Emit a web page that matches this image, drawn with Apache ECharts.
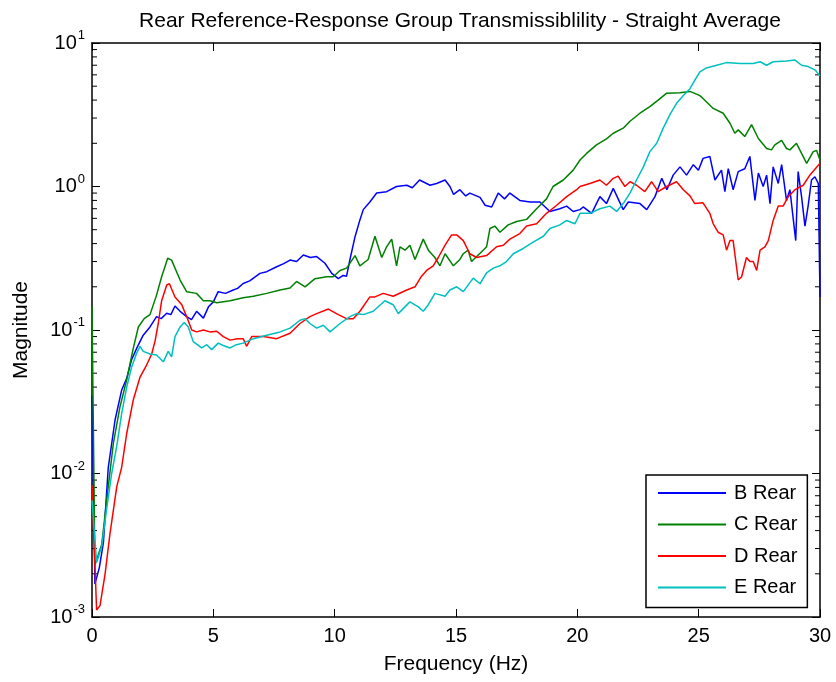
<!DOCTYPE html>
<html>
<head>
<meta charset="utf-8">
<script src="https://cdn.jsdelivr.net/npm/echarts@6/dist/echarts.min.js"></script>
<style>html,body{margin:0;padding:0;background:#fff;}#c{width:836px;height:682px;}</style>
</head>
<body>
<div id="c"></div>
<script>
// ---- data ----
const seriesNames = ['B Rear', 'C Rear', 'D Rear', 'E Rear'];
const xTicks = [0, 5, 10, 15, 20, 25, 30];
const yDecades = [0.001, 0.01, 0.1, 1, 10];
const minorMantissas = [2, 3, 4, 5, 6, 7, 8, 9];

const freqB = [0, 0.12, 0.3, 0.47, 0.67, 0.95, 1.22, 1.43, 1.63, 1.85, 2.11, 2.39, 2.66, 2.85, 3.08, 3.25, 3.42, 3.63, 3.9, 4.1, 4.31, 4.59, 4.8, 5.0, 5.2, 5.5, 5.82, 6.0, 6.23, 6.5, 6.92, 7.2, 7.61, 7.9, 8.16, 8.43, 8.71, 9.0, 9.26, 9.6, 9.88, 10.15, 10.35, 10.49, 10.63, 10.84, 11.04, 11.18, 11.45, 11.73, 12.14, 12.55, 12.97, 13.2, 13.5, 13.93, 14.2, 14.55, 14.75, 14.9, 15.16, 15.4, 15.57, 15.99, 16.2, 16.47, 16.74, 17.0, 17.22, 17.63, 18.05, 18.46, 18.87, 19.28, 19.56, 19.83, 20.11, 20.24, 20.59, 20.93, 21.2, 21.48, 21.89, 22.1, 22.58, 22.86, 23.2, 23.48, 23.69, 23.95, 24.23, 24.5, 24.78, 24.99, 25.18, 25.46, 25.67, 25.94, 26.08, 26.22, 26.42, 26.63, 26.9, 27.11, 27.32, 27.46, 27.66, 27.8, 27.94, 28.07, 28.28, 28.42, 28.62, 28.76, 29.0, 29.1, 29.24, 29.38, 29.51, 29.65, 29.79, 29.93, 30];
const magB = [0.035, 0.0017, 0.0022, 0.0033, 0.011, 0.0236, 0.038, 0.046, 0.062, 0.075, 0.092, 0.105, 0.124, 0.12, 0.131, 0.128, 0.147, 0.135, 0.124, 0.118, 0.135, 0.121, 0.145, 0.157, 0.185, 0.18, 0.19, 0.195, 0.211, 0.22, 0.248, 0.255, 0.276, 0.29, 0.307, 0.3, 0.333, 0.32, 0.325, 0.292, 0.248, 0.228, 0.24, 0.237, 0.31, 0.447, 0.585, 0.69, 0.78, 0.9, 0.92, 1.0, 1.02, 0.98, 1.11, 1.02, 1.05, 1.11, 1.0, 0.88, 0.95, 0.86, 0.9, 0.84, 0.74, 0.72, 0.9, 0.82, 0.9, 0.8, 0.78, 0.78, 0.67, 0.7, 0.73, 0.67, 0.69, 0.72, 0.65, 0.85, 0.76, 0.97, 0.69, 0.78, 0.76, 0.69, 0.85, 1.14, 0.95, 1.2, 1.37, 1.2, 1.42, 1.3, 1.57, 1.62, 1.11, 1.3, 0.92, 1.33, 0.95, 1.27, 1.33, 1.62, 0.8, 1.24, 1.0, 1.2, 0.76, 1.37, 1.05, 1.42, 0.8, 0.95, 0.42, 1.27, 0.85, 0.53, 0.73, 1.11, 1.17, 1.05, 0.17];

const freqC = [0, 0.12, 0.4, 0.67, 0.88, 1.15, 1.43, 1.7, 1.91, 2.15, 2.39, 2.66, 2.87, 3.12, 3.28, 3.63, 3.9, 4.31, 4.59, 4.86, 5.14, 5.69, 6.23, 6.65, 7.2, 7.75, 8.16, 8.43, 8.78, 9.19, 9.67, 9.94, 10.22, 10.49, 10.84, 11.04, 11.38, 11.66, 11.94, 12.14, 12.35, 12.55, 12.69, 12.9, 13.1, 13.31, 13.65, 13.86, 14.13, 14.34, 14.55, 14.89, 15.16, 15.3, 15.5, 15.64, 16.12, 16.26, 16.4, 16.6, 16.81, 17.15, 17.5, 17.91, 18.32, 18.73, 19.0, 19.42, 19.83, 20.11, 20.38, 20.79, 21.2, 21.48, 21.89, 22.17, 22.58, 22.99, 23.33, 23.68, 24.23, 24.64, 25.05, 25.18, 25.6, 26.01, 26.29, 26.49, 26.63, 26.9, 27.18, 27.46, 27.8, 28.0, 28.14, 28.42, 28.62, 28.76, 29.03, 29.24, 29.45, 29.72, 29.86, 30];
const magC = [0.145, 0.0023, 0.0032, 0.0081, 0.0162, 0.029, 0.045, 0.0745, 0.105, 0.12, 0.128, 0.175, 0.235, 0.316, 0.307, 0.223, 0.185, 0.18, 0.16, 0.16, 0.155, 0.16, 0.168, 0.172, 0.18, 0.19, 0.196, 0.218, 0.2, 0.228, 0.235, 0.235, 0.26, 0.27, 0.33, 0.28, 0.31, 0.45, 0.32, 0.38, 0.43, 0.28, 0.38, 0.36, 0.39, 0.31, 0.43, 0.36, 0.32, 0.28, 0.34, 0.28, 0.31, 0.34, 0.36, 0.3, 0.36, 0.38, 0.51, 0.53, 0.48, 0.54, 0.57, 0.59, 0.7, 0.82, 1.0, 1.11, 1.3, 1.53, 1.7, 1.95, 2.15, 2.35, 2.55, 2.85, 3.24, 3.6, 4.0, 4.47, 4.5, 4.6, 4.3, 4.1, 3.5, 3.24, 2.76, 2.35, 2.48, 2.23, 2.7, 2.16, 1.84, 1.8, 1.95, 2.1, 1.84, 1.8, 2.0, 1.7, 1.45, 1.75, 1.78, 1.53];

const freqD = [0, 0.19, 0.33, 0.54, 0.74, 1.02, 1.22, 1.43, 1.7, 1.98, 2.25, 2.46, 2.6, 2.73, 2.87, 3.08, 3.19, 3.42, 3.7, 3.9, 4.11, 4.31, 4.59, 4.86, 5.14, 5.41, 5.69, 6.0, 6.23, 6.37, 6.58, 7.06, 7.61, 8.16, 8.57, 8.98, 9.26, 9.74, 10.15, 10.49, 10.77, 11.04, 11.45, 11.66, 12.0, 12.41, 12.97, 13.31, 13.58, 13.79, 14.06, 14.27, 14.55, 14.82, 15.03, 15.3, 15.57, 15.85, 16.26, 16.67, 16.95, 17.22, 17.63, 17.91, 18.32, 18.73, 19.15, 19.56, 19.97, 20.11, 20.52, 20.93, 21.2, 21.48, 21.68, 21.96, 22.17, 22.44, 22.78, 23.06, 23.33, 23.68, 24.09, 24.37, 24.64, 24.84, 25.18, 25.46, 25.6, 25.8, 26.01, 26.15, 26.29, 26.42, 26.63, 26.77, 26.97, 27.11, 27.25, 27.39, 27.53, 27.73, 27.87, 28.07, 28.28, 28.48, 28.69, 28.97, 29.31, 29.58, 30];
const magD = [0.0083, 0.00112, 0.0012, 0.002, 0.0038, 0.0081, 0.011, 0.019, 0.0325, 0.047, 0.057, 0.068, 0.084, 0.111, 0.16, 0.206, 0.21, 0.17, 0.15, 0.124, 0.1, 0.097, 0.1, 0.097, 0.098, 0.09, 0.085, 0.087, 0.087, 0.077, 0.09, 0.09, 0.087, 0.095, 0.111, 0.124, 0.13, 0.14, 0.128, 0.12, 0.12, 0.135, 0.17, 0.17, 0.18, 0.172, 0.19, 0.2, 0.237, 0.26, 0.28, 0.32, 0.39, 0.46, 0.46, 0.42, 0.34, 0.32, 0.33, 0.38, 0.39, 0.43, 0.47, 0.53, 0.55, 0.65, 0.74, 0.85, 0.95, 1.0, 1.05, 1.11, 1.02, 1.14, 1.18, 1.0, 1.08, 1.02, 0.92, 1.08, 0.92, 1.0, 1.08, 0.95, 0.86, 0.76, 0.77, 0.65, 0.55, 0.48, 0.46, 0.36, 0.42, 0.42, 0.223, 0.235, 0.32, 0.3, 0.3, 0.26, 0.36, 0.38, 0.42, 0.58, 0.73, 0.73, 0.85, 0.95, 1.02, 1.2, 1.45];

const freqE = [0, 0.19, 0.4, 0.6, 0.81, 1.02, 1.22, 1.43, 1.63, 1.84, 1.98, 2.11, 2.39, 2.66, 2.94, 3.14, 3.28, 3.42, 3.63, 3.8, 3.97, 4.17, 4.52, 4.73, 4.93, 5.2, 5.41, 5.69, 5.95, 6.23, 6.65, 7.2, 7.75, 8.16, 8.57, 8.78, 8.98, 9.26, 9.53, 9.81, 10.22, 10.63, 10.9, 11.18, 11.59, 12.07, 12.41, 12.62, 13.1, 13.45, 13.65, 13.86, 14.13, 14.55, 14.75, 15.03, 15.3, 15.71, 15.99, 16.26, 16.54, 16.81, 17.08, 17.36, 17.77, 18.18, 18.6, 18.87, 19.28, 19.56, 19.9, 20.11, 20.52, 20.93, 21.34, 21.62, 21.89, 22.17, 22.44, 22.72, 22.99, 23.27, 23.54, 23.82, 24.09, 24.37, 24.64, 24.84, 25.05, 25.32, 25.74, 26.15, 26.7, 27.25, 27.53, 27.8, 28.07, 28.62, 28.97, 29.24, 29.51, 29.79, 30];
const magE = [0.0065, 0.0024, 0.0031, 0.0056, 0.01, 0.0155, 0.026, 0.04, 0.055, 0.069, 0.077, 0.071, 0.068, 0.067, 0.06, 0.071, 0.065, 0.09, 0.105, 0.113, 0.105, 0.083, 0.075, 0.079, 0.073, 0.081, 0.078, 0.075, 0.079, 0.081, 0.087, 0.092, 0.097, 0.103, 0.117, 0.12, 0.111, 0.103, 0.108, 0.097, 0.111, 0.124, 0.13, 0.128, 0.135, 0.16, 0.15, 0.13, 0.157, 0.145, 0.135, 0.15, 0.18, 0.172, 0.19, 0.2, 0.185, 0.23, 0.21, 0.25, 0.27, 0.28, 0.3, 0.34, 0.37, 0.41, 0.45, 0.51, 0.54, 0.58, 0.55, 0.65, 0.65, 0.7, 0.73, 0.67, 0.76, 0.9, 1.11, 1.37, 1.75, 2.0, 2.55, 3.18, 3.8, 4.3, 4.8, 5.5, 6.3, 6.7, 7.0, 7.3, 7.2, 7.2, 7.4, 7.0, 7.4, 7.5, 7.6, 7.0, 6.85, 6.5, 5.9];

const seriesColors = ['#0000ff', '#008000', '#ff0000', '#00bfbf'];
const freqs = [freqB, freqC, freqD, freqE];
const mags = [magB, magC, magD, magE];

// ---- chart ----
const FONT = 'Arial, "Liberation Sans", Helvetica, sans-serif';
const chart = echarts.init(document.getElementById('c'), null, { renderer: 'canvas' });

const minorVals = [];
yDecades.slice(0, -1).forEach(d => minorMantissas.forEach(m => minorVals.push([0, d * m])));

const axisLineStyle = { color: '#000', width: 1.5 };
const supLabel = v => {
  const e = Math.round(Math.log10(v));
  return '{b|10}{s|' + e + '}';
};
const richY = {
  b: { fontSize: 20, fontFamily: FONT, color: '#000' },
  s: { fontSize: 13, fontFamily: FONT, color: '#000', padding: [0, 0, 15, 1] }
};

const lineSeries = seriesNames.map((name, i) => ({
  name: name,
  type: 'line',
  xAxisIndex: 0,
  yAxisIndex: 0,
  data: freqs[i].map((f, j) => [f, mags[i][j]]),
  symbol: 'none',
  showSymbol: false,
  smooth: false,
  lineStyle: { color: seriesColors[i], width: 1.5 },
  itemStyle: { color: seriesColors[i] },
  emphasis: { disabled: true },
  animation: false,
  clip: true
}));

const minorTickSeries = {
  type: 'custom',
  name: '__minor',
  xAxisIndex: 0,
  yAxisIndex: 0,
  silent: true,
  clip: false,
  animation: false,
  data: minorVals,
  renderItem: function (params, api) {
    const v = api.value(1);
    const pL = api.coord([0, v]);
    const pR = api.coord([30, v]);
    return {
      type: 'group',
      children: [
        { type: 'line', shape: { x1: pL[0], y1: pL[1], x2: pL[0] + 5, y2: pL[1] }, style: { stroke: '#000', lineWidth: 1 } },
        { type: 'line', shape: { x1: pR[0] - 5, y1: pR[1], x2: pR[0], y2: pR[1] }, style: { stroke: '#000', lineWidth: 1 } }
      ]
    };
  }
};

const option = {
  backgroundColor: '#fff',
  animation: false,
  title: {
    text: 'Rear Reference-Response Group Transmissiblility - Straight Average',
    left: 455,
    top: 6,
    textAlign: 'center',
    textStyle: { fontFamily: FONT, fontSize: 21, fontWeight: 'normal', color: '#000' }
  },
  grid: { left: 92, right: 16, top: 43, bottom: 65, containLabel: false },
  legend: {
    data: seriesNames,
    orient: 'vertical',
    left: 646,
    top: 475,
    icon: 'rect',
    itemWidth: 68,
    itemHeight: 2,
    itemGap: 11.5,
    padding: [8, 10, 10, 12],
    backgroundColor: '#fff',
    borderColor: '#000',
    borderWidth: 1.5,
    borderRadius: 0,
    textStyle: { fontFamily: FONT, fontSize: 20, color: '#000', padding: [0, 0, 0, 3] },
    selectedMode: false
  },
  xAxis: [
    {
      type: 'value', min: 0, max: 30, interval: 5, position: 'bottom',
      name: 'Frequency (Hz)', nameLocation: 'middle', nameGap: 37,
      nameTextStyle: { fontFamily: FONT, fontSize: 21, color: '#000' },
      axisLine: { show: true, onZero: false, lineStyle: axisLineStyle },
      axisTick: { show: true, inside: true, length: 8, lineStyle: { color: '#000', width: 1 } },
      axisLabel: { show: true, margin: 9, fontFamily: FONT, fontSize: 20, color: '#000',
        formatter: v => xTicks.includes(v) ? String(v) : '' },
      splitLine: { show: false }
    },
    {
      type: 'value', min: 0, max: 30, interval: 5, position: 'top',
      axisLine: { show: true, onZero: false, lineStyle: axisLineStyle },
      axisTick: { show: true, inside: true, length: 8, lineStyle: { color: '#000', width: 1 } },
      axisLabel: { show: false },
      splitLine: { show: false }
    }
  ],
  yAxis: [
    {
      type: 'log', logBase: 10, min: 0.001, max: 10, position: 'left',
      name: 'Magnitude', nameLocation: 'middle', nameGap: 60,
      nameTextStyle: { fontFamily: FONT, fontSize: 21, color: '#000' },
      axisLine: { show: true, onZero: false, lineStyle: axisLineStyle },
      axisTick: { show: true, inside: true, length: 8, lineStyle: { color: '#000', width: 1 } },
      axisLabel: { show: true, margin: 7, formatter: supLabel, rich: richY },
      splitLine: { show: false }
    },
    {
      type: 'log', logBase: 10, min: 0.001, max: 10, position: 'right',
      axisLine: { show: true, onZero: false, lineStyle: axisLineStyle },
      axisTick: { show: true, inside: true, length: 8, lineStyle: { color: '#000', width: 1 } },
      axisLabel: { show: false },
      splitLine: { show: false }
    }
  ],
  series: lineSeries.concat([minorTickSeries])
};
chart.setOption(option);
</script>
</body>
</html>
